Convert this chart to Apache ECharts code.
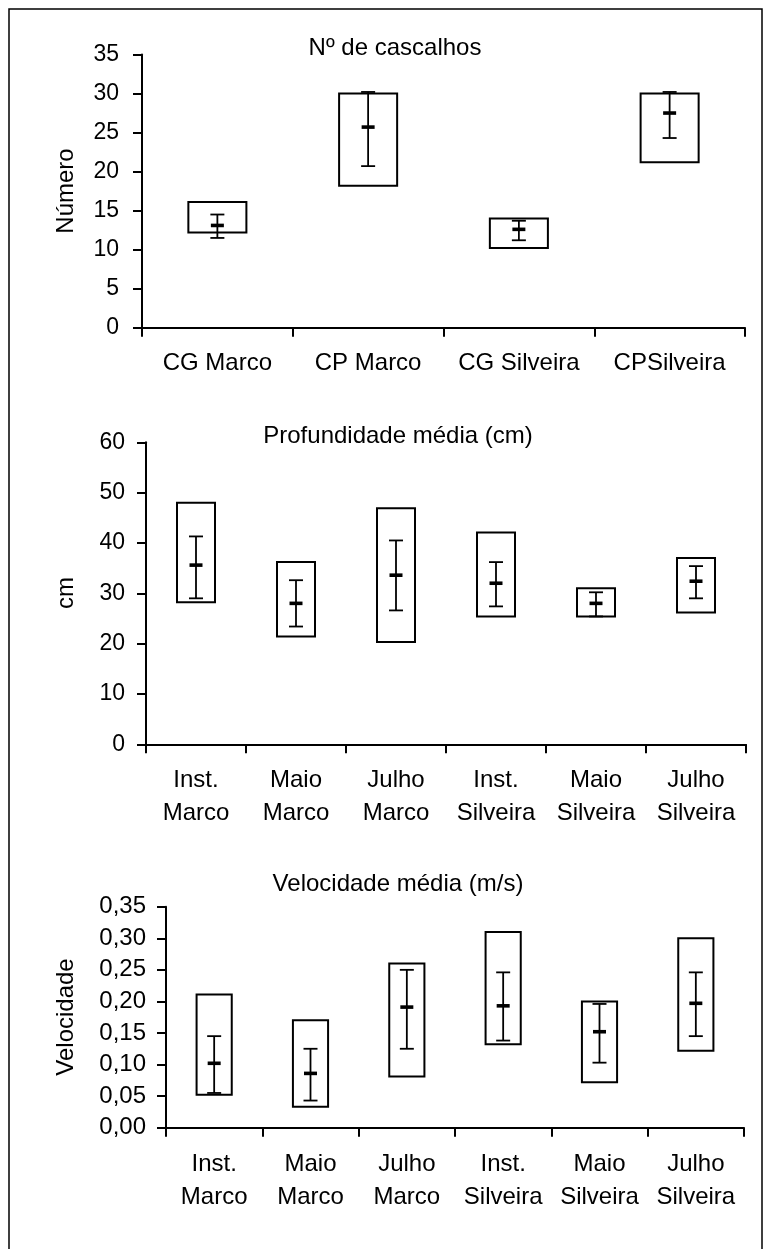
<!DOCTYPE html>
<html>
<head>
<meta charset="utf-8">
<script src="https://cdn.jsdelivr.net/npm/echarts@6/dist/echarts.min.js"></script>
<style>
  html, body { margin: 0; padding: 0; background: #fff; }
  #chart { width: 767px; height: 1249px; }
</style>
</head>
<body>
<div id="chart"></div>
<script>
// Panel 1 – Nº de cascalhos (Número)
const cascCategories = ['CG Marco', 'CP Marco', 'CG Silveira', 'CPSilveira'];
const cascBoxLow  = [12.2, 18.2, 10.2, 21.2];
const cascBoxHigh = [16.1, 30.0, 14.0, 30.0];
const cascErrLow  = [11.5, 20.7, 11.2, 24.3];
const cascErrHigh = [14.5, 30.2, 13.7, 30.2];
const cascMean    = [13.1, 25.7, 12.6, 27.5];

// Panel 2 – Profundidade média (cm)
const profCategories = ['Inst.\nMarco', 'Maio\nMarco', 'Julho\nMarco', 'Inst.\nSilveira', 'Maio\nSilveira', 'Julho\nSilveira'];
const profBoxLow  = [28.2, 21.4, 20.3, 25.4, 25.4, 26.2];
const profBoxHigh = [48.0, 36.2, 46.9, 42.1, 31.0, 37.0];
const profErrLow  = [29.0, 23.4, 26.6, 27.4, 25.4, 29.0];
const profErrHigh = [41.3, 32.6, 40.5, 36.2, 30.2, 35.4];
const profMean    = [35.6, 28.0, 33.6, 32.0, 28.0, 32.4];

// Panel 3 – Velocidade média (m/s)
const velCategories = ['Inst.\nMarco', 'Maio\nMarco', 'Julho\nMarco', 'Inst.\nSilveira', 'Maio\nSilveira', 'Julho\nSilveira'];
const velBoxLow  = [0.052, 0.033, 0.081, 0.132, 0.072, 0.122];
const velBoxHigh = [0.211, 0.170, 0.260, 0.310, 0.200, 0.300];
const velErrLow  = [0.055, 0.043, 0.125, 0.138, 0.103, 0.145];
const velErrHigh = [0.145, 0.125, 0.250, 0.246, 0.196, 0.246];
const velMean    = [0.102, 0.086, 0.191, 0.193, 0.152, 0.197];

const FONT = '"Liberation Sans", Arial, sans-serif';
const INK = '#000';

function rows(low, high, eLow, eHigh, mean) {
  return low.map((v, i) => [i, v, high[i], eLow[i], eHigh[i], mean[i]]);
}

// Box = range rectangle; inside it a vertical error bar with caps and a thick mean mark
function boxRenderer(boxFrac) {
  return function (params, api) {
    const i = api.value(0);
    const band = api.size([1, 0])[0];
    const bw = band * boxFrac;
    const top = api.coord([i, api.value(2)]);
    const bot = api.coord([i, api.value(1)]);
    const eHi = api.coord([i, api.value(4)]);
    const eLo = api.coord([i, api.value(3)]);
    const mid = api.coord([i, api.value(5)]);
    const x = top[0];
    const cap = 14, meanW = 13, meanH = 3.6;
    return {
      type: 'group',
      children: [
        { type: 'rect', shape: { x: x - bw / 2, y: top[1], width: bw, height: bot[1] - top[1] },
          style: { fill: '#fff', stroke: INK, lineWidth: 2 } },
        { type: 'line', shape: { x1: x, y1: eHi[1], x2: x, y2: eLo[1] },
          style: { stroke: INK, lineWidth: 1.8 } },
        { type: 'line', shape: { x1: x - cap / 2, y1: eHi[1], x2: x + cap / 2, y2: eHi[1] },
          style: { stroke: INK, lineWidth: 1.8 } },
        { type: 'line', shape: { x1: x - cap / 2, y1: eLo[1], x2: x + cap / 2, y2: eLo[1] },
          style: { stroke: INK, lineWidth: 1.8 } },
        { type: 'rect', shape: { x: x - meanW / 2, y: mid[1] - meanH / 2, width: meanW, height: meanH },
          style: { fill: INK } }
      ]
    };
  };
}

function xAxisCfg(gridIndex, data, margin, lineHeight) {
  return {
    type: 'category', gridIndex, data,
    boundaryGap: true,
    axisLine: { show: true, lineStyle: { color: INK, width: 2 } },
    axisTick: { show: true, alignWithLabel: false, length: 9, inside: false, lineStyle: { color: INK, width: 2 } },
    axisLabel: { color: INK, fontSize: 24, fontFamily: FONT, margin, lineHeight, interval: 0 },
    splitLine: { show: false }
  };
}

function yAxisCfg(gridIndex, max, interval, formatter, margin, fontSize) {
  return {
    type: 'value', gridIndex, min: 0, max, interval,
    axisLine: { show: true, lineStyle: { color: INK, width: 2 } },
    axisTick: { show: true, length: 9, inside: false, lineStyle: { color: INK, width: 2 } },
    axisLabel: { color: INK, fontSize, fontFamily: FONT, margin, formatter, showMinLabel: true, showMaxLabel: true },
    splitLine: { show: false }
  };
}

function label(text, x, y, rotate) {
  return {
    type: 'text', x, y, rotation: rotate ? Math.PI / 2 : 0,
    style: { text, fill: INK, fontSize: 24, fontFamily: FONT, align: 'center', verticalAlign: 'middle' }
  };
}

const chart = echarts.init(document.getElementById('chart'), null, { renderer: 'canvas' });

chart.setOption({
  backgroundColor: '#fff',
  animation: false,
  grid: [
    { left: 142, right: 22, top: 54.5, height: 273.2 },
    { left: 146, right: 21, top: 442.3, height: 302 },
    { left: 166, right: 23, top: 906.7, height: 221 }
  ],
  xAxis: [
    xAxisCfg(0, cascCategories, 23, 26),
    xAxisCfg(1, profCategories, 20, 33),
    xAxisCfg(2, velCategories, 20, 33)
  ],
  yAxis: [
    yAxisCfg(0, 35, 5, v => String(v), 23, 23),
    yAxisCfg(1, 60, 10, v => String(v), 21, 23),
    yAxisCfg(2, 0.35, 0.05, v => v.toFixed(2).replace('.', ','), 20, 24)
  ],
  graphic: [
    { type: 'rect', z: -10, shape: { x: 9, y: 9, width: 753, height: 1300 },
      style: { fill: 'none', stroke: INK, lineWidth: 1.5 } },
    label('Nº de cascalhos', 395, 48),
    label('Profundidade média (cm)', 398, 436),
    label('Velocidade média (m/s)', 398, 884),
    label('Número', 66, 191, true),
    label('cm', 66, 593, true),
    label('Velocidade', 66, 1017, true)
  ],
  series: [
    { type: 'custom', xAxisIndex: 0, yAxisIndex: 0, renderItem: boxRenderer(0.385),
      encode: { x: 0, y: [1, 2, 3, 4, 5] },
      data: rows(cascBoxLow, cascBoxHigh, cascErrLow, cascErrHigh, cascMean) },
    { type: 'custom', xAxisIndex: 1, yAxisIndex: 1, renderItem: boxRenderer(0.38),
      encode: { x: 0, y: [1, 2, 3, 4, 5] },
      data: rows(profBoxLow, profBoxHigh, profErrLow, profErrHigh, profMean) },
    { type: 'custom', xAxisIndex: 2, yAxisIndex: 2, renderItem: boxRenderer(0.365),
      encode: { x: 0, y: [1, 2, 3, 4, 5] },
      data: rows(velBoxLow, velBoxHigh, velErrLow, velErrHigh, velMean) }
  ]
});
</script>
</body>
</html>
